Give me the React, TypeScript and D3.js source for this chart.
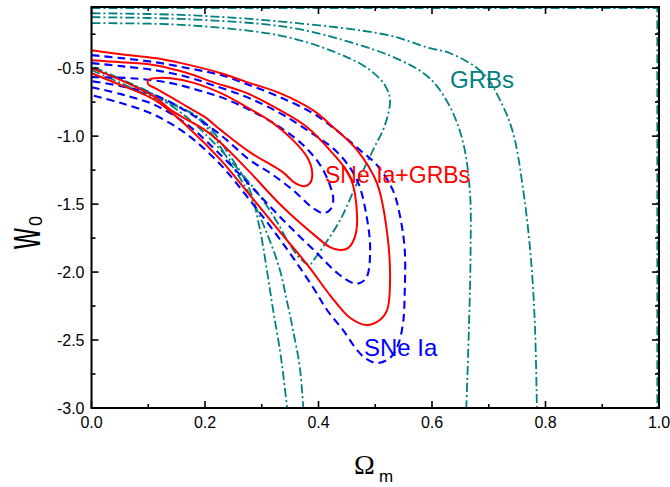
import React from "react";
import * as d3 from "d3";

type Pt = [number, number];

// axis ticks
const xMajor = [0, 0.2, 0.4, 0.6, 0.8, 1.0];
const xMinor = [0.1, 0.3, 0.5, 0.7, 0.9];
const yMajor = [-3.0, -2.5, -2.0, -1.5, -1.0, -0.5];
const yMinor = [-2.75, -2.25, -1.75, -1.25, -0.75, -0.25];

// GRBs alone (dash-dot)
const grb1: Pt[] = [
  [0, -0.169], [0.17, -0.184], [0.346, -0.272], [0.45, -0.419], [0.491, -0.515],
  [0.517, -0.625], [0.526, -0.735], [0.517, -0.919], [0.496, -1.103], [0.468, -1.346],
  [0.438, -1.618], [0.408, -1.816], [0.389, -1.926], [0.385, -1.949], [0.367, -1.897],
  [0.35, -1.801], [0.327, -1.632], [0.302, -1.471], [0.279, -1.346], [0.228, -1.103],
  [0.174, -0.882], [0.112, -0.699], [0.052, -0.581], [0, -0.485],
];
const grb2Upper: Pt[] = [
  [0, -0.125], [0.17, -0.14], [0.346, -0.199], [0.456, -0.309], [0.544, -0.441],
  [0.596, -0.574], [0.632, -0.787], [0.655, -1.051], [0.667, -1.419], [0.668, -1.838],
  [0.665, -2.426], [0.66, -3.05],
];
const grb2Lower: Pt[] = [
  [0, -0.5], [0.052, -0.588], [0.112, -0.699], [0.191, -0.882], [0.249, -1.228],
  [0.279, -1.434], [0.309, -1.713], [0.332, -1.985], [0.344, -2.206], [0.355, -2.426],
  [0.367, -2.699], [0.374, -3.05],
];
const grb3Upper: Pt[] = [
  [0, -0.096], [0.17, -0.11], [0.346, -0.162], [0.522, -0.257], [0.596, -0.353],
  [0.632, -0.39], [0.69, -0.537], [0.72, -0.735], [0.743, -0.978], [0.76, -1.375],
  [0.773, -1.838], [0.781, -2.353], [0.785, -3.05],
];
const grb3Lower: Pt[] = [
  [0, -0.515], [0.052, -0.61], [0.112, -0.721], [0.191, -0.868], [0.249, -1.176],
  [0.279, -1.397], [0.297, -1.691], [0.309, -1.985], [0.32, -2.279], [0.332, -2.574],
  [0.339, -2.794], [0.346, -3.05],
];
const grbEdge: Pt[] = [[0, -0.058], [0.997, -0.058], [0.997, -3.05]];

// SNe Ia alone (dashed)
const sn1: Pt[] = [
  [0, -0.566], [0.07, -0.574], [0.14, -0.61], [0.188, -0.662], [0.228, -0.713],
  [0.279, -0.809], [0.332, -0.934], [0.373, -1.066], [0.403, -1.213], [0.42, -1.36],
  [0.426, -1.471], [0.42, -1.544], [0.408, -1.566], [0.39, -1.529], [0.355, -1.397],
  [0.315, -1.272], [0.279, -1.176], [0.228, -0.993], [0.17, -0.824], [0.112, -0.699],
  [0.052, -0.632], [0, -0.596],
];
const sn2: Pt[] = [
  [0, -0.463], [0.052, -0.485], [0.112, -0.515], [0.17, -0.566], [0.214, -0.625],
  [0.274, -0.713], [0.332, -0.831], [0.38, -0.956], [0.433, -1.118], [0.468, -1.324],
  [0.485, -1.596], [0.491, -1.838], [0.485, -2.037], [0.473, -2.081], [0.461, -2.081],
  [0.433, -2.007], [0.397, -1.86], [0.35, -1.669], [0.309, -1.493], [0.279, -1.36],
  [0.228, -1.14], [0.17, -0.919], [0.112, -0.772], [0.052, -0.691], [0, -0.64],
];
const sn3: Pt[] = [
  [0, -0.404], [0.052, -0.426], [0.112, -0.456], [0.17, -0.5], [0.228, -0.551],
  [0.279, -0.625], [0.332, -0.713], [0.39, -0.831], [0.438, -0.978], [0.473, -1.103],
  [0.503, -1.213], [0.531, -1.397], [0.544, -1.596], [0.552, -1.838], [0.552, -2.132],
  [0.549, -2.375], [0.54, -2.537], [0.526, -2.632], [0.503, -2.669], [0.482, -2.632],
  [0.468, -2.574], [0.443, -2.426], [0.415, -2.279], [0.39, -2.11], [0.337, -1.787],
  [0.279, -1.471], [0.228, -1.213], [0.17, -0.993], [0.112, -0.846], [0.052, -0.757],
  [0, -0.699],
];

// SNe Ia + GRBs (solid)
const joint1: Pt[] = [
  [0.1, -0.588], [0.112, -0.574], [0.14, -0.574], [0.182, -0.61], [0.228, -0.684],
  [0.274, -0.787], [0.32, -0.904], [0.355, -1.029], [0.38, -1.154], [0.389, -1.272],
  [0.385, -1.346], [0.376, -1.368], [0.359, -1.346], [0.337, -1.265], [0.279, -1.118],
  [0.228, -0.956], [0.2, -0.86], [0.17, -0.787], [0.14, -0.713], [0.112, -0.647],
  [0.1, -0.618],
];
const joint2: Pt[] = [
  [0, -0.441], [0.052, -0.456], [0.112, -0.478], [0.17, -0.537], [0.214, -0.603],
  [0.274, -0.684], [0.332, -0.809], [0.38, -0.934], [0.42, -1.103], [0.456, -1.301],
  [0.468, -1.596], [0.464, -1.743], [0.452, -1.824], [0.438, -1.838], [0.42, -1.816],
  [0.397, -1.743], [0.337, -1.522], [0.279, -1.265], [0.228, -1.051], [0.2, -0.956],
  [0.17, -0.882], [0.14, -0.809], [0.112, -0.713], [0.082, -0.647], [0.052, -0.588],
  [0, -0.5],
];
const joint3: Pt[] = [
  [0, -0.368], [0.052, -0.397], [0.112, -0.426], [0.158, -0.463], [0.228, -0.537],
  [0.274, -0.603], [0.332, -0.684], [0.39, -0.809], [0.426, -0.934], [0.468, -1.103],
  [0.503, -1.346], [0.521, -1.713], [0.526, -2.081], [0.521, -2.279], [0.508, -2.353],
  [0.485, -2.39], [0.456, -2.338], [0.42, -2.169], [0.385, -1.971], [0.337, -1.728],
  [0.279, -1.434], [0.228, -1.176], [0.17, -0.934], [0.112, -0.735], [0.052, -0.625],
  [0, -0.537],
];

const W = 670;
const H = 487;
const L = 91.5;
const R = 659;
const T = 7;
const B = 408;

const TEAL = "#008080";
const SANS = "Arial, 'Liberation Sans', sans-serif";

export default function App() {
  const x = d3.scaleLinear().domain([0, 1]).range([L, R]);
  const y = d3.scaleLinear().domain([-3, -0.05]).range([B, T]);

  const open = d3
    .line<Pt>()
    .x((d) => x(d[0]))
    .y((d) => y(d[1]))
    .curve(d3.curveCatmullRom.alpha(0.5));
  const closed = d3
    .line<Pt>()
    .x((d) => x(d[0]))
    .y((d) => y(d[1]))
    .curve(d3.curveCatmullRomClosed.alpha(0.5));
  const straight = d3
    .line<Pt>()
    .x((d) => x(d[0]))
    .y((d) => y(d[1]));

  const grbStyle = {
    fill: "none",
    stroke: TEAL,
    strokeWidth: 1.8,
    strokeDasharray: "9,3,2,3",
  };
  const snStyle = {
    fill: "none",
    stroke: "#0000ff",
    strokeWidth: 2.1,
    strokeDasharray: "8,5",
  };
  const jointStyle = { fill: "none", stroke: "#ff0000", strokeWidth: 2 };

  return (
    <svg
      width={W}
      height={H}
      style={{ position: "absolute", left: 0, top: 0, background: "#fff" }}
    >
      <defs>
        <clipPath id="plot">
          <rect x={L} y={T} width={R - L} height={B - T} />
        </clipPath>
      </defs>
      <rect width={W} height={H} fill="#fff" />

      <g clipPath="url(#plot)">
        <path d={straight(grbEdge) ?? ""} style={grbStyle} />
        {[grb1, grb2Upper, grb2Lower, grb3Upper, grb3Lower].map((c, i) => (
          <path key={"g" + i} d={open(c) ?? ""} style={grbStyle} />
        ))}
        {[sn1, sn2, sn3].map((c, i) => (
          <path key={"s" + i} d={open(c) ?? ""} style={snStyle} />
        ))}
        <path d={closed(joint1) ?? ""} style={jointStyle} />
        {[joint2, joint3].map((c, i) => (
          <path key={"j" + i} d={open(c) ?? ""} style={jointStyle} />
        ))}
      </g>

      {/* frame */}
      <rect x={L} y={T} width={R - L} height={B - T} fill="none" stroke="#000" strokeWidth={2} />

      {/* ticks, all inward */}
      <g stroke="#000" strokeWidth={1.6}>
        {xMajor.map((v) => (
          <g key={"xM" + v}>
            <line x1={x(v)} x2={x(v)} y1={B} y2={B - 7} />
            <line x1={x(v)} x2={x(v)} y1={T} y2={T + 7} />
          </g>
        ))}
        {xMinor.map((v) => (
          <g key={"xm" + v}>
            <line x1={x(v)} x2={x(v)} y1={B} y2={B - 4} />
            <line x1={x(v)} x2={x(v)} y1={T} y2={T + 4} />
          </g>
        ))}
        {yMajor.map((v) => (
          <g key={"yM" + v}>
            <line x1={L} x2={L + 7} y1={y(v)} y2={y(v)} />
            <line x1={R} x2={R - 7} y1={y(v)} y2={y(v)} />
          </g>
        ))}
        {yMinor.map((v) => (
          <g key={"ym" + v}>
            <line x1={L} x2={L + 4} y1={y(v)} y2={y(v)} />
            <line x1={R} x2={R - 4} y1={y(v)} y2={y(v)} />
          </g>
        ))}
      </g>

      <g fontFamily={SANS} fontSize={16} fill="#000">
        {xMajor.map((v) => (
          <text key={"xl" + v} x={x(v)} y={B + 20} textAnchor="middle">
            {v.toFixed(1)}
          </text>
        ))}
        {yMajor.map((v) => (
          <text key={"yl" + v} x={L - 7} y={y(v) + 5.5} textAnchor="end">
            {v.toFixed(1)}
          </text>
        ))}
      </g>

      {/* axis titles */}
      <text x={354} y={474} fontFamily="'Liberation Serif', 'Times New Roman', serif" fontSize={28}>
        Ω
      </text>
      <text x={379} y={482} fontFamily={SANS} fontSize={17}>
        m
      </text>
      <g transform="translate(40,249) rotate(-90)">
        <text x={0} y={0} fontFamily={SANS} fontSize={36} transform="scale(0.8,1.35)">
          w
        </text>
        <text x={23} y={2} fontFamily={SANS} fontSize={18}>
          0
        </text>
      </g>

      {/* contour labels */}
      <text x={450} y={88} fontFamily={SANS} fontSize={24} fill={TEAL}>
        GRBs
      </text>
      <text x={325} y={183} fontFamily={SANS} fontSize={23} fill="#ff0000">
        SNe Ia+GRBs
      </text>
      <text x={364} y={356} fontFamily={SANS} fontSize={24} fill="#0000ff">
        SNe Ia
      </text>
    </svg>
  );
}
